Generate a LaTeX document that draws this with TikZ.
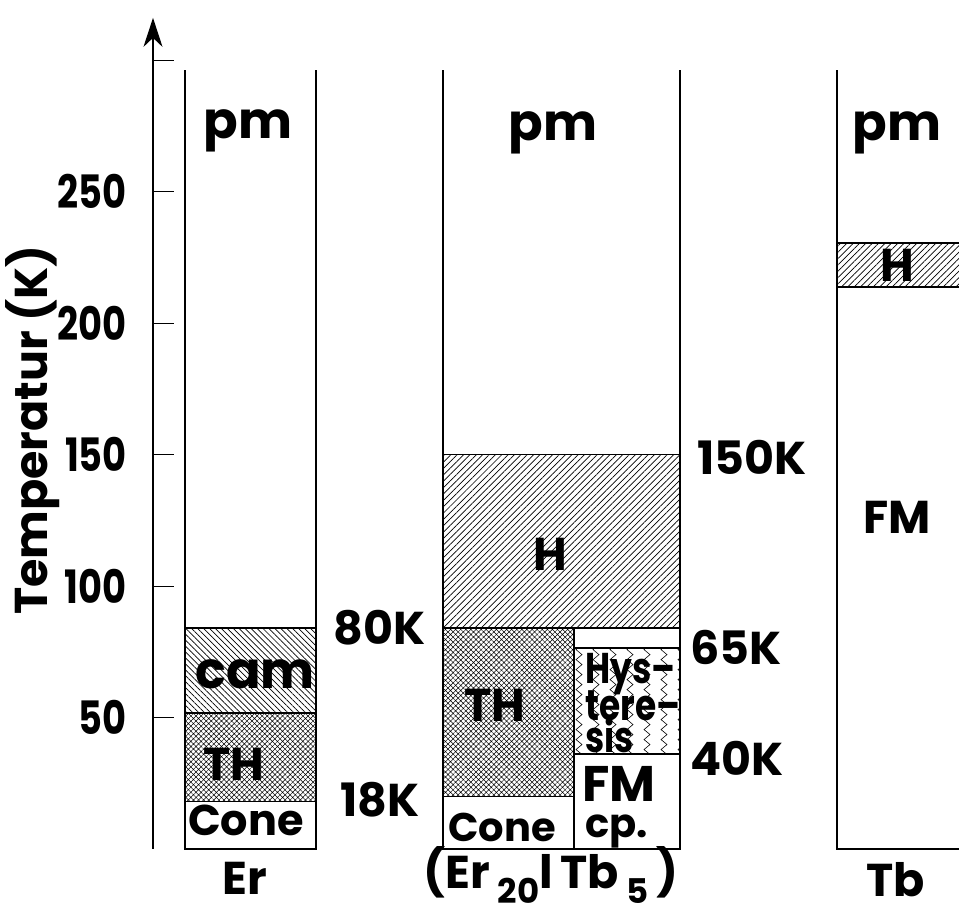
\documentclass[tikz,border=0pt]{standalone}
\usepackage{fontspec}
\setmainfont{Poppins}
\newfontfamily\narrowfont{Poppins}[FakeStretch=0.8]
\usetikzlibrary{patterns.meta,arrows.meta}
\tikzset{
  phase/.style={line width=1.2pt},
  big/.style={inner sep=0pt,font=\fontsize{46}{46}\selectfont\bfseries},
  low/.style={inner sep=0pt,font=\fontsize{51}{51}\selectfont\bfseries},
  small/.style={inner sep=0pt,font=\fontsize{40}{40}\selectfont\bfseries},
  ticklab/.style={inner sep=0pt,font=\fontsize{46}{46}\narrowfont\bfseries},
  hyslab/.style={inner sep=0pt,font=\fontsize{43}{43}\narrowfont\bfseries},
  hatchne/.style={pattern={Lines[angle=45,distance=4.5pt,line width=0.7pt]}},
  hatchnw/.style={pattern={Lines[angle=-45,distance=4.2pt,line width=0.7pt]}},
  hatchx/.style={pattern={Hatch[angle=45,distance=3.6pt,line width=0.5pt]}}
}
\begin{document}
\begin{tikzpicture}[x=1pt,y=2.63pt]
\useasboundingbox (0,-23.95) rectangle (959,322.8);
% axis
\draw[line width=1.2pt,-{Stealth[length=29pt,width=19pt,inset=9pt]}] (153,0) -- (153,316);
\foreach \t in {50,100,...,300} \draw[line width=0.9pt] (153,\t) -- (174,\t);
\foreach \t in {50,100,150,200,250} \node[ticklab,anchor=east] (tick\t) at (127,\t) {\t};
\node[big,rotate=90,anchor=base] (ylabel) at (47,159.3) {Temperatur (K)};
% Er
\draw[phase,hatchx] (185,18) rectangle (316,51.7);
\draw[phase,hatchnw] (185,51.7) rectangle (316,84);
\draw[phase] (185,296) -- (185,0) -- (316,0) -- (316,296);
\node[low,anchor=base] (erpm) at (248,270) {pm};
\node[low,anchor=base] (ercam) at (255,61.2) {cam};
\node[big,anchor=base] (erth) at (234,26.2) {TH};
\node[small,anchor=base] (ercone) at (246,5.3) {\fontsize{43}{43}\selectfont Cone};
\node[big,anchor=base] (er) at (245,-17.5) {Er};
\node[big,anchor=base west] (er80) at (333,77.6) {80K};
\node[big,anchor=base west] (er18) at (340,12.2) {18K};
% (Er20|Tb5)
\draw[phase,hatchne] (443,84) rectangle (680,150);
\draw[phase,hatchx] (443,19.8) rectangle (574,84);
\begin{scope}
\clip (574,36.1) rectangle (680,76.4);
\foreach \k in {0,...,6}
  \draw[line width=0.6pt] (576+17*\k,34) \foreach \j in {1,...,12} {-- ++(6,1.9) -- ++(-6,1.9)};
\end{scope}
\draw[phase] (574,36.1) -- (680,36.1) (574,76.4) -- (680,76.4) (574,0) -- (574,84);
\draw[phase] (443,296) -- (443,0) -- (680,0) -- (680,296);
\node[low,anchor=base] (mipm) at (553,269.3) {pm};
\node[big,anchor=base] (mih) at (550,106) {H};
\node[big,anchor=base] (mith) at (495,48.3) {TH};
\node[small,anchor=base] (micone) at (502,2.7) {Cone};
\node[hyslab,anchor=base west] (mihys) at (585,63.1) {Hys–};
\node[hyslab,anchor=base west] (mitere) at (585,49) {tere–};
\node[hyslab,anchor=base west] (misis) at (585,36.5) {sis};
\node[big,anchor=base] (mifm) at (619,17.9) {\fontsize{50}{50}\selectfont FM};
\node[small,anchor=base west] (micp) at (585,4.2) {cp.};
\node[big,anchor=base] (mi) at (551,-15) {(Er\,\raisebox{-15pt}{\fontsize{34}{34}\selectfont 20}l\,Tb\,\raisebox{-15pt}{\fontsize{34}{34}\selectfont 5}\,)};
\node[big,anchor=base west] (mi150) at (697,142.2) {150K};
\node[big,anchor=base west] (mi65) at (690,70) {65K};
\node[big,anchor=base west] (mi40) at (690,28.1) {40K};
% Tb
\draw[phase,hatchne] (837,213.7) rectangle (962,230.4);
\draw[phase] (837,296) -- (837,0) -- (962,0);
\node[low,anchor=base] (tbpm) at (897,269.3) {pm};
\node[big] (tbh) at (897,222) {H};
\node[big] (tbfm) at (897,125.9) {FM};
\node[big,anchor=base] (tb) at (896,-18.2) {Tb};
\end{tikzpicture}
\end{document}
